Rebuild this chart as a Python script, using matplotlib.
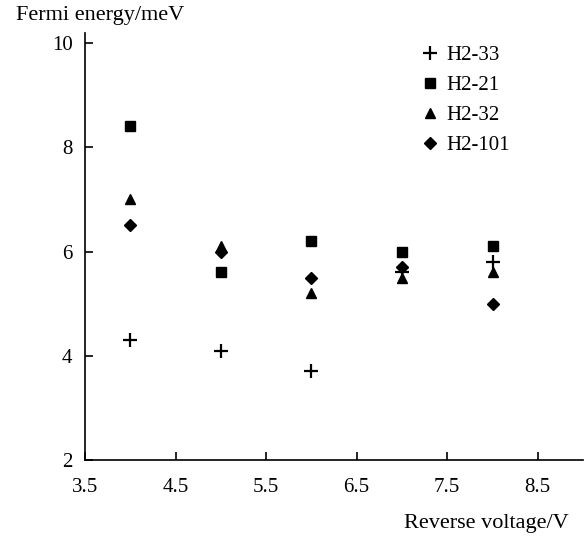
import matplotlib
matplotlib.use("Agg")
import matplotlib.pyplot as plt

plt.rcParams["font.family"] = ["Liberation Serif", "DejaVu Serif"]

# Reverse voltage (V)
voltage = [4, 5, 6, 7, 8]

# Fermi energy (meV) per sample
h2_33 = [4.3, 4.1, 3.7, 5.6, 5.8]
h2_21 = [8.4, 5.6, 6.2, 6.0, 6.1]
h2_32 = [7.0, 6.1, 5.2, 5.5, 5.6]
h2_101 = [6.5, 6.0, 5.5, 5.7, 5.0]

x_ticks = [3.5, 4.5, 5.5, 6.5, 7.5, 8.5]
y_ticks = [2, 4, 6, 8, 10]

fig = plt.figure(figsize=(5.88, 5.41), dpi=100)
ax = fig.add_axes([0.1446, 0.1497, 0.847, 0.790])

ax.plot(voltage, h2_33, linestyle="none", marker="+", color="black",
        markersize=10, markeredgewidth=1.6, label="H2-33")
ax.plot(voltage, h2_21, linestyle="none", marker="s", color="black",
        markersize=6.5, label="H2-21")
ax.plot(voltage, h2_32, linestyle="none", marker="^", color="black",
        markersize=7.5, label="H2-32")
ax.plot(voltage, h2_101, linestyle="none", marker="D", color="black",
        markersize=6, label="H2-101")

ax.set_xlim(3.5, 9.0)
ax.set_ylim(2, 10.2)
ax.set_xticks(x_ticks)
ax.set_xticklabels([f"{v:.1f}" for v in x_ticks])
ax.set_yticks(y_ticks)

for side in ("top", "right"):
    ax.spines[side].set_visible(False)
ax.spines["left"].set_linewidth(1.2)
ax.spines["bottom"].set_linewidth(1.2)
ax.tick_params(direction="in", length=6, width=1.2, labelsize=15)
ax.tick_params(axis="x", pad=13)
ax.tick_params(axis="y", pad=9)

fig.text(0.028, 0.972, "Fermi energy/meV", fontsize=16,
         va="center", ha="left")
fig.text(0.967, 0.033, "Reverse voltage/V", fontsize=16,
         va="center", ha="right")

leg = ax.legend(loc="upper left", bbox_to_anchor=(0.63, 1.014), frameon=False,
                fontsize=15, handletextpad=0.2, labelspacing=0.5,
                handlelength=1.2)

fig.savefig("out.png", dpi=100)
